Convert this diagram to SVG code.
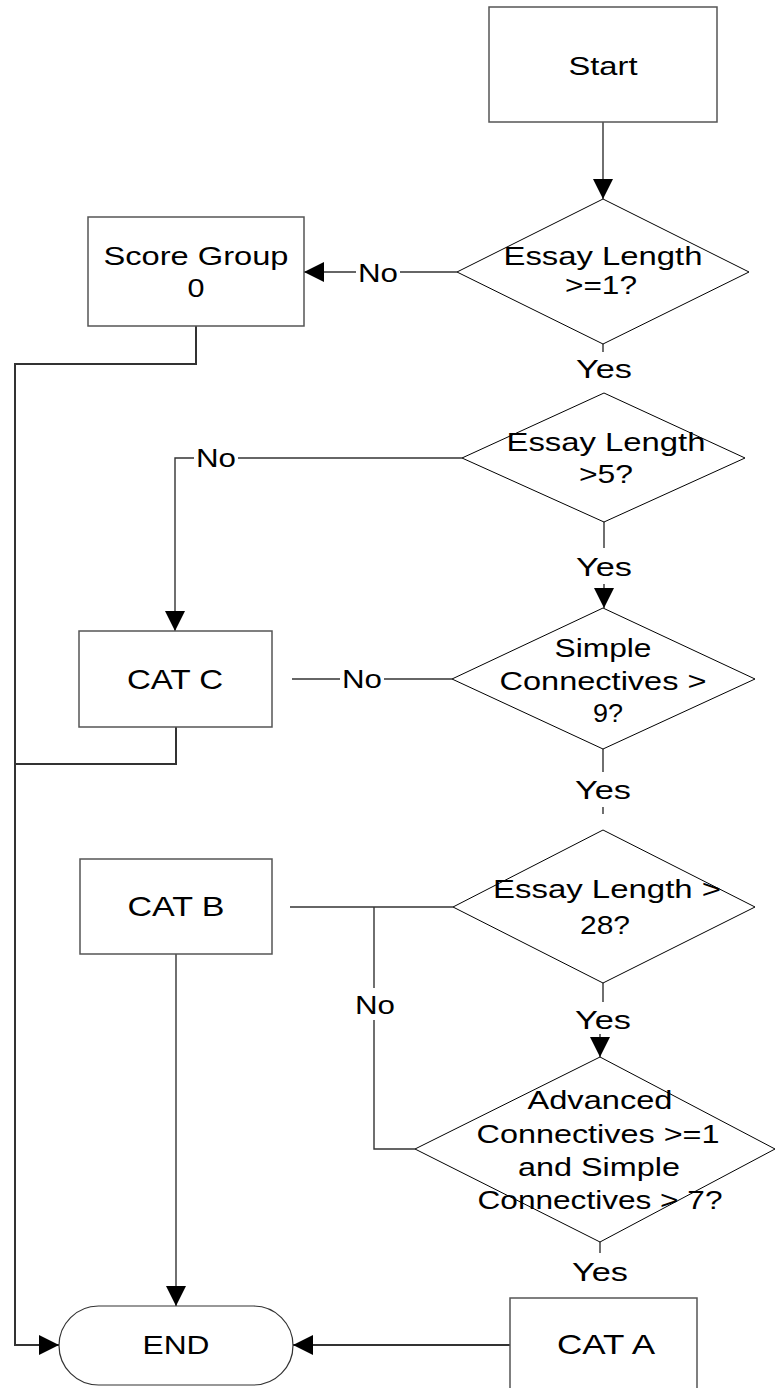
<svg xmlns="http://www.w3.org/2000/svg" width="775" height="1388" viewBox="0 0 775 1388">
  <style>
    .box { fill: #ffffff; stroke: #555555; stroke-width: 1.5; }
    .dia { fill: #ffffff; stroke: #000000; stroke-width: 1; }
    .term { fill: #ffffff; stroke: #333333; stroke-width: 1.2; }
    .wire { fill: none; stroke: #333333; stroke-width: 1.4; }
    .trunk { fill: none; stroke: #333333; stroke-width: 2; }
    .t { font-family: "Liberation Sans", Arial, sans-serif; font-size: 26.5px; fill: #000000; text-anchor: middle; }
    .lbl { font-family: "Liberation Sans", Arial, sans-serif; font-size: 25.5px; fill: #000000; text-anchor: middle; }
    .big { font-size: 28px; }
  </style>
  <defs>
    <marker id="arrow" markerUnits="userSpaceOnUse" markerWidth="20" markerHeight="20" refX="20" refY="10" orient="auto">
      <path d="M0,0 L20,10 L0,20 Z" fill="#000000"/>
    </marker>
  </defs>
  <rect width="775" height="1388" fill="#ffffff"/>

  <!-- connectors -->
  <g id="connectors">
    <!-- start to first check -->
    <line class="wire" x1="603" y1="122" x2="603" y2="199" marker-end="url(#arrow)"/>
    <!-- length >= 1 : no -->
    <line class="wire" x1="457" y1="272" x2="400" y2="272"/>
    <line class="wire" x1="356" y1="272" x2="304" y2="272" marker-end="url(#arrow)"/>
    <!-- length >= 1 : yes -->
    <line class="wire" x1="603" y1="344" x2="603" y2="352"/>
    <!-- score group 0 down the left side to END -->
    <polyline class="trunk" points="196,326 196,364 15,364 15,1345 59,1345" marker-end="url(#arrow)"/>
    <!-- length > 5 : no -->
    <line class="wire" x1="462" y1="458" x2="238" y2="458"/>
    <polyline class="wire" points="194,458 175,458 175,631" marker-end="url(#arrow)"/>
    <!-- length > 5 : yes -->
    <line class="wire" x1="604" y1="522" x2="604" y2="548"/>
    <line class="wire" x1="604" y1="584" x2="604" y2="608" marker-end="url(#arrow)"/>
    <!-- simple connectives > 9 : no -->
    <line class="wire" x1="292" y1="679" x2="340" y2="679"/>
    <line class="wire" x1="384" y1="679" x2="452" y2="679"/>
    <!-- CAT C joins the left side -->
    <polyline class="trunk" points="176,727 176,764 15,764"/>
    <!-- simple connectives > 9 : yes -->
    <line class="wire" x1="603" y1="749" x2="603" y2="772"/>
    <line class="wire" x1="603" y1="807" x2="603" y2="814"/>
    <!-- length > 28 : no -->
    <line class="wire" x1="290" y1="907" x2="453" y2="907"/>
    <line class="wire" x1="374" y1="907" x2="374" y2="988"/>
    <polyline class="wire" points="374,1020 374,1149 415,1149"/>
    <!-- length > 28 : yes -->
    <line class="wire" x1="603" y1="983" x2="603" y2="1002"/>
    <line class="wire" x1="600" y1="1034" x2="600" y2="1057" marker-end="url(#arrow)"/>
    <!-- advanced check : yes -->
    <line class="wire" x1="600" y1="1242" x2="600" y2="1253"/>
    <!-- CAT B to END -->
    <line class="wire" x1="176" y1="954" x2="176" y2="1306" marker-end="url(#arrow)"/>
    <!-- CAT A to END -->
    <line class="trunk" x1="510" y1="1345" x2="293" y2="1345" marker-end="url(#arrow)"/>

    <!-- branch labels -->
    <text class="lbl" x="378" y="282" textLength="40" lengthAdjust="spacingAndGlyphs">No</text>
    <text class="lbl" x="604" y="378" textLength="56" lengthAdjust="spacingAndGlyphs">Yes</text>
    <text class="lbl" x="216" y="467" textLength="40" lengthAdjust="spacingAndGlyphs">No</text>
    <text class="lbl" x="604" y="576" textLength="56" lengthAdjust="spacingAndGlyphs">Yes</text>
    <text class="lbl" x="362" y="688" textLength="40" lengthAdjust="spacingAndGlyphs">No</text>
    <text class="lbl" x="603" y="799" textLength="56" lengthAdjust="spacingAndGlyphs">Yes</text>
    <text class="lbl" x="375" y="1014" textLength="40" lengthAdjust="spacingAndGlyphs">No</text>
    <text class="lbl" x="603" y="1029" textLength="56" lengthAdjust="spacingAndGlyphs">Yes</text>
    <text class="lbl" x="600" y="1281" textLength="56" lengthAdjust="spacingAndGlyphs">Yes</text>
  </g>

  <g id="start">
    <rect class="box" x="489" y="7" width="228" height="115"/>
    <text class="t" x="603" y="75" textLength="69" lengthAdjust="spacingAndGlyphs">Start</text>
  </g>

  <g id="check-length-1">
    <polygon class="dia" points="603,199 749,272 603,344 457,272"/>
    <text class="t" x="603" y="265" textLength="199" lengthAdjust="spacingAndGlyphs">Essay Length</text>
    <text class="t" x="601" y="294" textLength="72" lengthAdjust="spacingAndGlyphs">&gt;=1?</text>
  </g>

  <g id="score-group-0">
    <rect class="box" x="88" y="217" width="216" height="109"/>
    <text class="t" x="196" y="265" textLength="185" lengthAdjust="spacingAndGlyphs">Score Group</text>
    <text class="t" x="196" y="297" textLength="17" lengthAdjust="spacingAndGlyphs">0</text>
  </g>

  <g id="check-length-5">
    <polygon class="dia" points="604,393 745,458 604,522 462,458"/>
    <text class="t" x="606" y="451" textLength="199" lengthAdjust="spacingAndGlyphs">Essay Length</text>
    <text class="t" x="606" y="483" textLength="54" lengthAdjust="spacingAndGlyphs">&gt;5?</text>
  </g>

  <g id="cat-c">
    <rect class="box" x="79" y="631" width="193" height="96"/>
    <text class="t big" x="175" y="689" textLength="96" lengthAdjust="spacingAndGlyphs">CAT C</text>
  </g>

  <g id="check-simple-9">
    <polygon class="dia" points="603,608 755,679 603,749 452,679"/>
    <text class="t" x="603" y="657" textLength="97" lengthAdjust="spacingAndGlyphs">Simple</text>
    <text class="t" x="603" y="690" textLength="207" lengthAdjust="spacingAndGlyphs">Connectives &gt;</text>
    <text class="t" x="608" y="722" textLength="30" lengthAdjust="spacingAndGlyphs">9?</text>
  </g>

  <g id="cat-b">
    <rect class="box" x="80" y="859" width="192" height="95"/>
    <text class="t big" x="176" y="916" textLength="97" lengthAdjust="spacingAndGlyphs">CAT B</text>
  </g>

  <g id="check-length-28">
    <polygon class="dia" points="603,830 755,907 603,983 453,907"/>
    <text class="t" x="607" y="898" textLength="228" lengthAdjust="spacingAndGlyphs">Essay Length &gt;</text>
    <text class="t" x="605" y="934" textLength="50" lengthAdjust="spacingAndGlyphs">28?</text>
  </g>

  <g id="check-advanced">
    <polygon class="dia" points="600,1057 775,1149 600,1242 415,1149"/>
    <text class="t" x="600" y="1109" textLength="145" lengthAdjust="spacingAndGlyphs">Advanced</text>
    <text class="t" x="598" y="1143" textLength="243" lengthAdjust="spacingAndGlyphs">Connectives &gt;=1</text>
    <text class="t" x="599" y="1176" textLength="162" lengthAdjust="spacingAndGlyphs">and Simple</text>
    <text class="t" x="600" y="1209" textLength="245" lengthAdjust="spacingAndGlyphs">Connectives &gt; 7?</text>
  </g>

  <g id="cat-a">
    <rect class="box" x="510" y="1298" width="187" height="100"/>
    <text class="t big" x="606" y="1354" textLength="98" lengthAdjust="spacingAndGlyphs">CAT A</text>
  </g>

  <g id="end">
    <rect class="term" x="59" y="1306" width="234" height="79" rx="39.5" ry="39.5"/>
    <text class="t" x="176" y="1354" textLength="67" lengthAdjust="spacingAndGlyphs">END</text>
  </g>
</svg>
